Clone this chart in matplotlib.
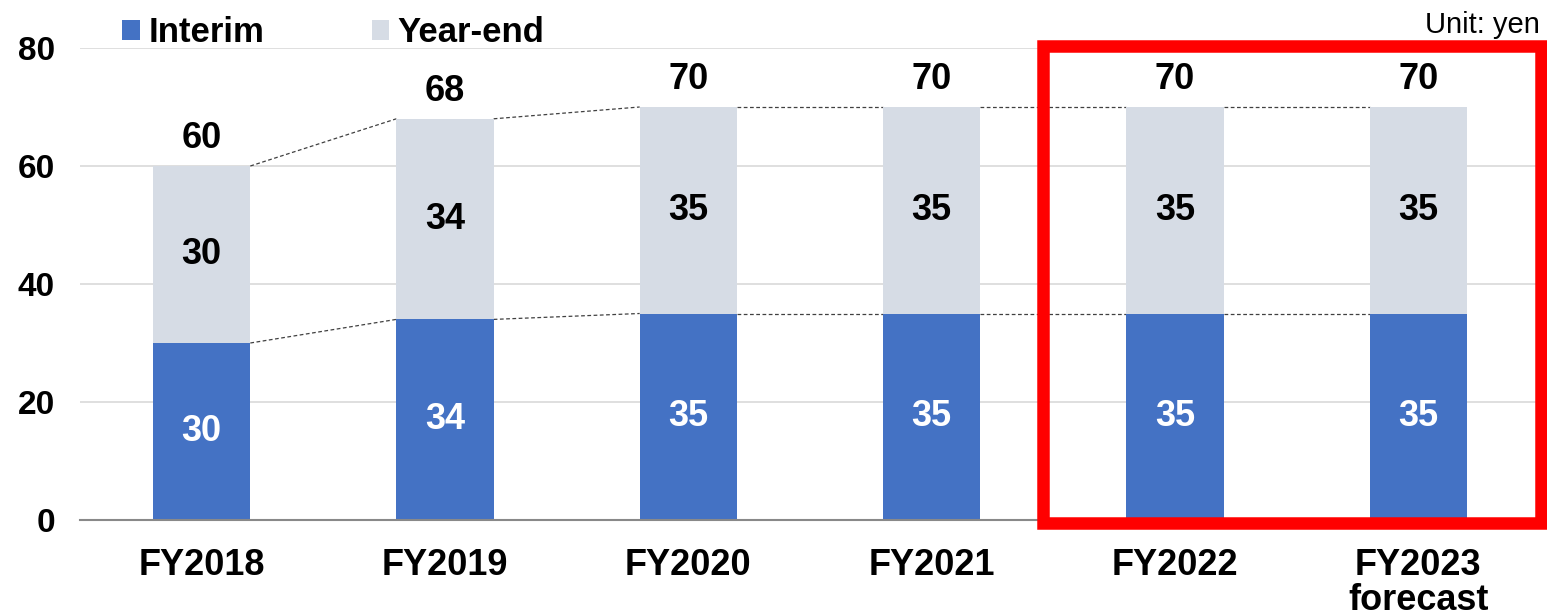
import matplotlib.pyplot as plt
from matplotlib.patches import Rectangle
import numpy as np

years = ['FY2018', 'FY2019', 'FY2020', 'FY2021', 'FY2022', 'FY2023\nforecast']
interim = [30, 34, 35, 35, 35, 35]
year_end = [30, 34, 35, 35, 35, 35]

plt.rcParams['font.family'] = ['Liberation Sans', 'DejaVu Sans']

blue = '#4472C4'
grey = '#D6DCE5'

fig = plt.figure(figsize=(15.47, 6.16), dpi=100)
ax = fig.add_axes([80/1547, 1-520/616, 1460/1547, 472/616])

x = np.arange(len(years))
total = np.array(interim) + np.array(year_end)
w = 0.4

ax.bar(x, interim, w, color=blue, label='Interim', zorder=3)
ax.bar(x, year_end, w, bottom=interim, color=grey, label='Year-end', zorder=3)

# dashed connectors between bars
for i in range(len(x) - 1):
    ax.plot([x[i] + w/2, x[i+1] - w/2], [interim[i], interim[i+1]],
            ls=(0, (3, 2)), color='#404040', lw=0.9, zorder=2)
    ax.plot([x[i] + w/2, x[i+1] - w/2], [total[i], total[i+1]],
            ls=(0, (3, 2)), color='#404040', lw=0.9, zorder=2)

fs = 26
for i in range(len(x)):
    ax.text(x[i], interim[i]/2, str(interim[i]), ha='center', va='center',
            color='white', fontsize=fs, fontweight='bold', zorder=4)
    ax.text(x[i], interim[i] + year_end[i]/2, str(year_end[i]), ha='center',
            va='center', color='black', fontsize=fs, fontweight='bold', zorder=4)
    ax.annotate(str(total[i]), (x[i], total[i]), xytext=(0, 20),
                textcoords='offset points', ha='center', va='center',
                fontsize=fs, fontweight='bold')

ax.set_xlim(-0.5, len(x) - 0.5)
ax.set_ylim(0, 80)
ax.set_yticks([0, 20, 40, 60, 80])
ax.set_xticks(x)
ax.set_xticklabels(years, fontsize=26, fontweight='bold', linespacing=1.0)
for lab in ax.get_yticklabels():
    lab.set_fontsize(24)
    lab.set_fontweight('bold')
ax.tick_params(axis='x', length=0, pad=20)
ax.tick_params(axis='y', length=0, pad=18)
ax.grid(axis='y', color='#D9D9D9', lw=1.2, zorder=0)
for s in ['top', 'right', 'left']:
    ax.spines[s].set_visible(False)
ax.spines['bottom'].set_color('#898989')
ax.spines['bottom'].set_linewidth(1.5)
ax.spines['bottom'].set_zorder(3)

leg = fig.legend(loc='center left', bbox_to_anchor=(91/1547, 1-33/616), ncol=2,
                 frameon=False, handlelength=0.5, handleheight=0.5,
                 handletextpad=0.25, columnspacing=3.1,
                 prop={'size': 25, 'weight': 'bold'})

fig.text(1540/1547, 1-25/616, 'Unit: yen', ha='right', va='center', fontsize=21)

# red highlight box around the last two years
fig.patches.append(Rectangle((1043/1547, 1-523/616), 498/1547, 477/616,
                             transform=fig.transFigure, fill=False,
                             edgecolor='#FF0000', lw=9, zorder=10))

fig.savefig('out.png', dpi=100)
